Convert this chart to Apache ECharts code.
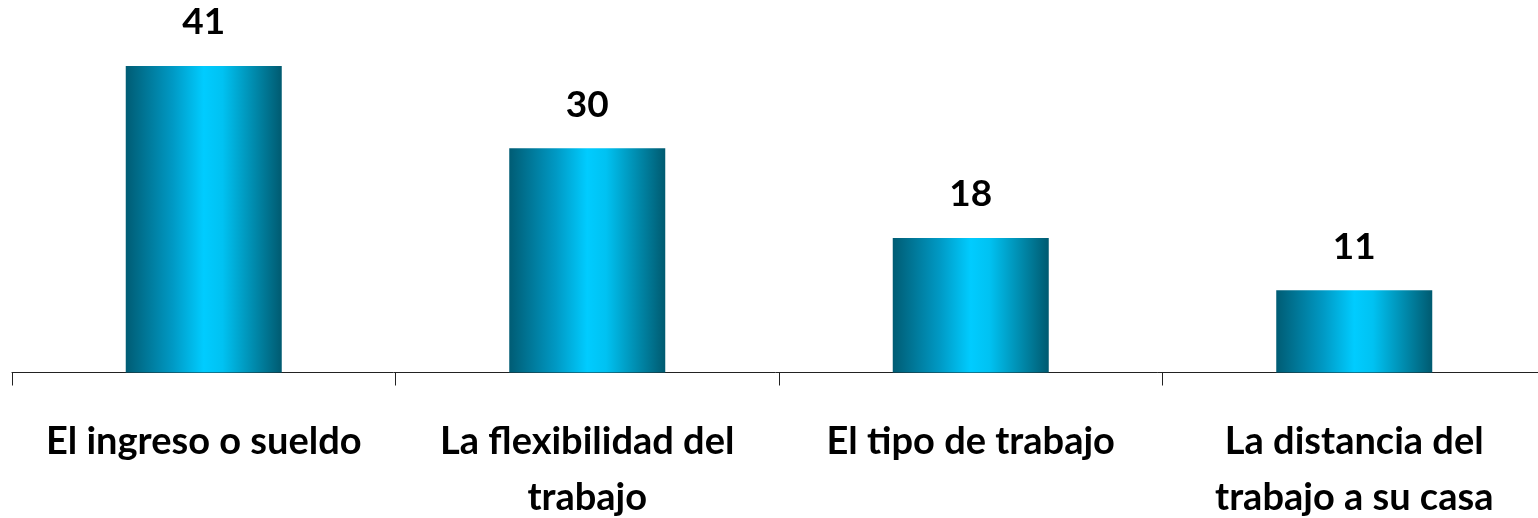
<!DOCTYPE html>
<html>
<head>
<meta charset="utf-8">
<script src="https://cdn.jsdelivr.net/npm/echarts@6/dist/echarts.min.js"></script>
<style>
html,body{margin:0;padding:0;background:#fff;}
#c{width:1538px;height:518px;}
</style>
</head>
<body>
<div id="c"></div>
<script>
const categories = ["El ingreso o sueldo", "La flexibilidad del\ntrabajo", "El tipo de trabajo", "La distancia del\ntrabajo a su casa"];
const values = [41, 30, 18, 11];

const chart = echarts.init(document.getElementById('c'), null, {renderer: 'canvas'});
const grad = new echarts.graphic.LinearGradient(0, 0, 1, 0, [
  {offset: 0, color: '#005c74'},
  {offset: 0.3, color: '#0099c4'},
  {offset: 0.5, color: '#00ccff'},
  {offset: 0.62, color: '#00c2f2'},
  {offset: 1, color: '#005a70'}
]);
chart.setOption({
  animation: false,
  backgroundColor: '#ffffff',
  grid: {left: 12, top: 66, width: 1534, height: 306.5, containLabel: false, outerBoundsMode: 'none'},
  xAxis: {
    type: 'category',
    data: categories,
    axisLine: {show: true, lineStyle: {color: '#222', width: 1}},
    axisTick: {show: true, length: 13, lineStyle: {color: '#222'}},
    axisLabel: {
      interval: 0,
      margin: 41,
      color: '#000',
      fontFamily: 'Lato',
      fontWeight: 'bold',
      fontSize: 38,
      lineHeight: 56,
      verticalAlign: 'top'
    }
  },
  yAxis: {
    type: 'value', min: 0, max: 41, show: false,
    splitLine: {show: false}
  },
  series: [{
    type: 'bar',
    data: values,
    barWidth: 156,
    itemStyle: {color: grad},
    label: {
      show: true,
      position: 'top',
      distance: 25,
      color: '#000',
      fontFamily: 'Lato',
      fontWeight: 'bold',
      fontSize: 37
    }
  }]
});
</script>
</body>
</html>
